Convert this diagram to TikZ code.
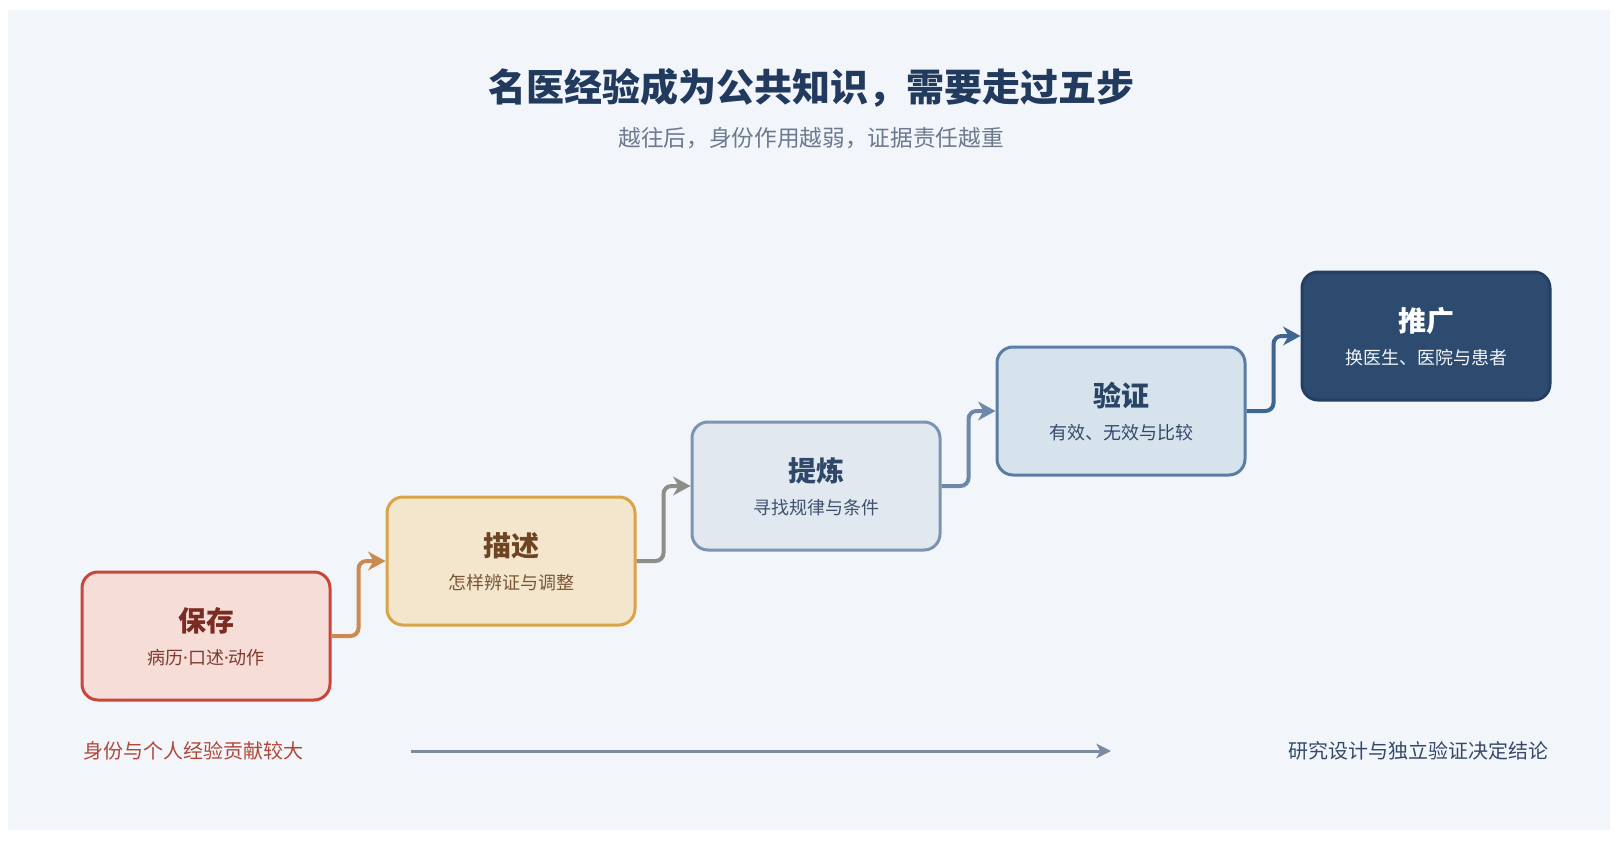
\documentclass[tikz,border=0pt]{standalone}
\usepackage{fontspec}
\setmainfont{Noto Sans CJK SC}
\newfontfamily\latinfont{Noto Sans}
\usetikzlibrary{arrows.meta,chains,positioning}

\definecolor{paper}{HTML}{F2F6FA}
\definecolor{titleblue}{HTML}{213A5E}
\definecolor{subgray}{HTML}{6B7A8F}
% step colours: fill, line, head, sub
\definecolor{fillkeep}{HTML}{F6DDD8}     \definecolor{linekeep}{HTML}{C9473A}
\definecolor{headkeep}{HTML}{7A2C22}     \definecolor{subkeep}{HTML}{7D3B30}
\definecolor{filldescribe}{HTML}{F3E6CD} \definecolor{linedescribe}{HTML}{D8A447}
\definecolor{headdescribe}{HTML}{6E4423} \definecolor{subdescribe}{HTML}{7A5635}
\definecolor{fillrefine}{HTML}{E1E8F0}   \definecolor{linerefine}{HTML}{7A94B2}
\definecolor{headrefine}{HTML}{2F4868}   \definecolor{subrefine}{HTML}{3E5270}
\definecolor{fillverify}{HTML}{D6E3ED}   \definecolor{lineverify}{HTML}{5A7DA3}
\definecolor{headverify}{HTML}{2A4465}   \definecolor{subverify}{HTML}{34496A}
\definecolor{fillspread}{HTML}{2D4A6F}   \definecolor{linespread}{HTML}{243F62}
\definecolor{headspread}{HTML}{FFFFFF}   \definecolor{subspread}{HTML}{F2F4F8}
% connectors
\definecolor{connkeep}{HTML}{CB8A50}
\definecolor{conndescribe}{HTML}{8C8E87}
\definecolor{connrefine}{HTML}{6D88A9}
\definecolor{connverify}{HTML}{3E6690}
\definecolor{axisgray}{HTML}{7B8CA2}
\definecolor{leftred}{HTML}{B0483A}
\definecolor{rightblue}{HTML}{34496A}

\newcommand\mdot{{\latinfont ·}}

\begin{document}
\begin{tikzpicture}[
x=0.75pt, y=-0.75pt,
node distance=40.5pt,
 start chain = S going right,
 stepbox/.style = {rectangle, draw, line width=2.25pt,% boxes of the five steps (chain)
                rounded corners=12pt,
                minimum width=186pt, minimum height=96pt, on chain},
    head/.style = {font=\bfseries\fontsize{21}{25}\selectfont},
     sub/.style = {font=\fontsize{13.5}{16}\selectfont},
    flow/.style = {line width=3pt, rounded corners=6pt,
                -{Stealth[length=13pt,width=14pt,inset=4pt]}},
    note/.style = {font=\fontsize{15}{18}\selectfont, inner sep=0pt},
                        ]
\useasboundingbox (0,0) rectangle (1622,842);
\fill[paper] (8,10) rectangle (1610,830);
\node[font=\bfseries\fontsize{28.5}{34}\selectfont, text=titleblue] (title) at (811,88)
    {名医经验成为公共知识，需要走过五步};
\node[font=\fontsize{17}{20}\selectfont, text=subgray] (subtitle) at (811,138)
    {越往后，身份作用越弱，证据责任越重};
% steps
\node[stepbox, fill=fillkeep, draw=linekeep, at={(206,636)}] (keep) {};
\foreach \k in {describe,refine,verify,spread}% <-- each one step higher
    \node[stepbox, fill=fill\k, draw=line\k, yshift=56.25pt] (\k) {};
\foreach \k/\h/\s in {keep/保存/病历\mdot 口述\mdot 动作,
                      describe/描述/怎样辨证与调整,
                      refine/提炼/寻找规律与条件,
                      verify/验证/有效、无效与比较,
                      spread/推广/换医生、医院与患者}
{
    \node[head, text=head\k] (\k-h) at ([yshift=11.25pt]\k.center) {\h};
    \node[sub, text=sub\k] (\k-s) at ([yshift=-16.5pt]\k.center) {\s};
}
\foreach \a/\b in {keep/describe, describe/refine, refine/verify, verify/spread}
    \draw[flow, draw=conn\a] (\a.east) -- ++(27,0) |- (\b.west);
% bottom axis
\node[note, text=leftred, anchor=west] (lnote) at (83,751) {身份与个人经验贡献较大};
\node[note, text=rightblue, anchor=east] (rnote) at (1549,751) {研究设计与独立验证决定结论};
\coordinate (a0) at (411,751);
\coordinate (a1) at (1111,751);
\draw[axisgray, line width=2.25pt, -{Stealth[length=11pt,width=11pt,inset=3pt]}] (a0) -- (a1);
\end{tikzpicture}
\end{document}
